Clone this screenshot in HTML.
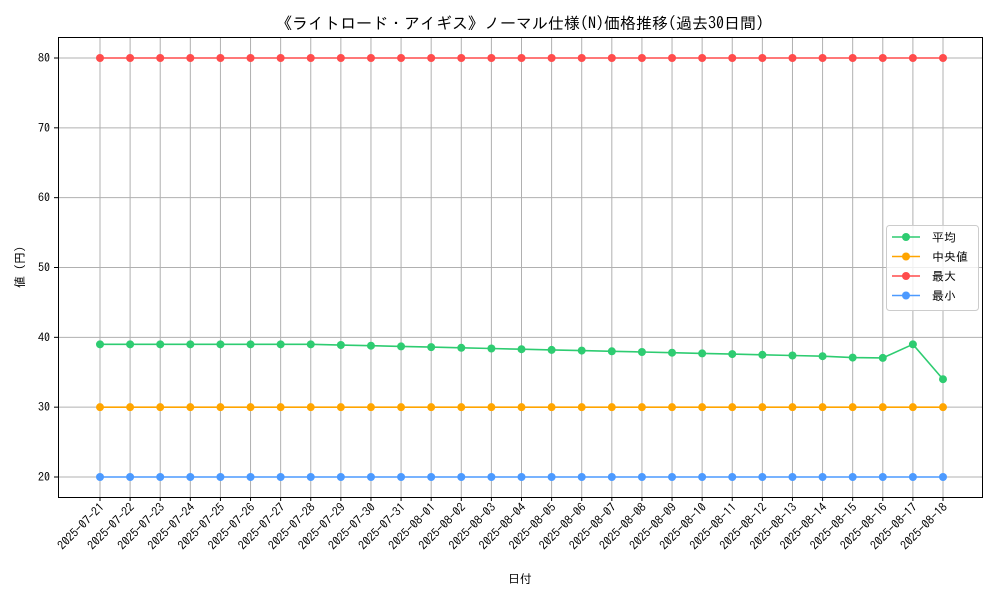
<!DOCTYPE html>
<html><head><meta charset="utf-8"><style>
body{margin:0;background:#fff;}
svg text{font-family:"IPAGothic","Noto Sans CJK JP",sans-serif;fill:#000;}
</style></head><body>
<svg id="chart" width="1000" height="600" xmlns="http://www.w3.org/2000/svg">
<rect width="1000" height="600" fill="#fff"/>
<text x="520" y="29" font-size="16" text-anchor="middle">《ライトロード・アイギス》ノーマル仕様(N)価格推移(過去30日間)</text>
<g id="grid"></g>
<g id="series"></g>
<rect x="58.5" y="37.5" width="924" height="460" fill="none" stroke="#000" stroke-width="1"/>
<g id="ticks"></g>
<text x="520" y="583" font-size="12" text-anchor="middle">日付</text>
<text transform="translate(24,267) rotate(-90)" font-size="12" text-anchor="middle">値 (円)</text>
<g>
<rect x="886.5" y="225.5" width="92" height="85" rx="3" fill="#fff" fill-opacity="0.8" stroke="#ccc"/>
<g id="legend"></g>
</g>
</svg>
<script>
const dates=["2025-07-21","2025-07-22","2025-07-23","2025-07-24","2025-07-25","2025-07-26","2025-07-27","2025-07-28","2025-07-29","2025-07-30","2025-07-31","2025-08-01","2025-08-02","2025-08-03","2025-08-04","2025-08-05","2025-08-06","2025-08-07","2025-08-08","2025-08-09","2025-08-10","2025-08-11","2025-08-12","2025-08-13","2025-08-14","2025-08-15","2025-08-16","2025-08-17","2025-08-18"];
const avgVals=[39,39,39,39,39,39,39,39,38.9,38.8,38.7,38.6,38.5,38.4,38.3,38.2,38.1,38.0,37.9,37.8,37.7,37.6,37.5,37.4,37.3,37.1,37.05,39,34];
const medVals=[30,30,30,30,30,30,30,30,30,30,30,30,30,30,30,30,30,30,30,30,30,30,30,30,30,30,30,30,30];
const maxVals=[80,80,80,80,80,80,80,80,80,80,80,80,80,80,80,80,80,80,80,80,80,80,80,80,80,80,80,80,80];
const minVals=[20,20,20,20,20,20,20,20,20,20,20,20,20,20,20,20,20,20,20,20,20,20,20,20,20,20,20,20,20];
const yTicks=[20,30,40,50,60,70,80];
const seriesNames=["平均","中央値","最大","最小"];
const NS="http://www.w3.org/2000/svg";
const xS=i=>100+i*(943-100)/(dates.length-1);
const yS=v=>477-(v-20)*(477-58)/60;
function mk(t,a,p){const e=document.createElementNS(NS,t);for(const k in a)e.setAttribute(k,a[k]);p.appendChild(e);return e;}
const grid=document.getElementById('grid'),ticks=document.getElementById('ticks'),ser=document.getElementById('series'),leg=document.getElementById('legend');
dates.forEach((d,i)=>{const x=xS(i);
const g=mk('line',{x1:x,x2:x,y1:37,y2:497,stroke:'#b0b0b0','stroke-width':1},grid);


mk('line',{x1:x,x2:x,y1:497,y2:501,stroke:'#000'},ticks);
const t=mk('text',{x:0,y:0,'font-size':12,'text-anchor':'end',transform:`translate(${x+5},${508}) rotate(-45)`},ticks);


t.textContent=d;});
yTicks.forEach(v=>{const y=yS(v);
const g=mk('line',{x1:58,x2:982,y1:y,y2:y,stroke:'#b0b0b0','stroke-width':1},grid);


mk('line',{x1:54,x2:58,y1:y,y2:y,stroke:'#000'},ticks);
const t=mk('text',{x:50,y:y+4,'font-size':12,'text-anchor':'end'},ticks);


t.textContent=v;});
const all=[[avgVals,'#2ecc71','avg'],[medVals,'#ffa500','median'],[maxVals,'#ff4c4c','max'],[minVals,'#4c9aff','min']];
all.forEach(([vals,c,n],si)=>{
const p=mk('polyline',{points:vals.map((v,i)=>xS(i)+','+yS(v)).join(' '),fill:'none',stroke:c,'stroke-width':1.6},ser);


vals.forEach((v,i)=>{const m=mk('circle',{cx:xS(i),cy:yS(v),r:4,fill:c},ser);

});
const ly=237+si*19.5;
mk('line',{x1:892,x2:920,y1:ly,y2:ly,stroke:c,'stroke-width':1.6},leg);
mk('circle',{cx:906,cy:ly,r:4,fill:c},leg);
const t=mk('text',{x:932,y:ly+4.5,'font-size':12},leg);


t.textContent=seriesNames[si];});
</script>
</body></html>
